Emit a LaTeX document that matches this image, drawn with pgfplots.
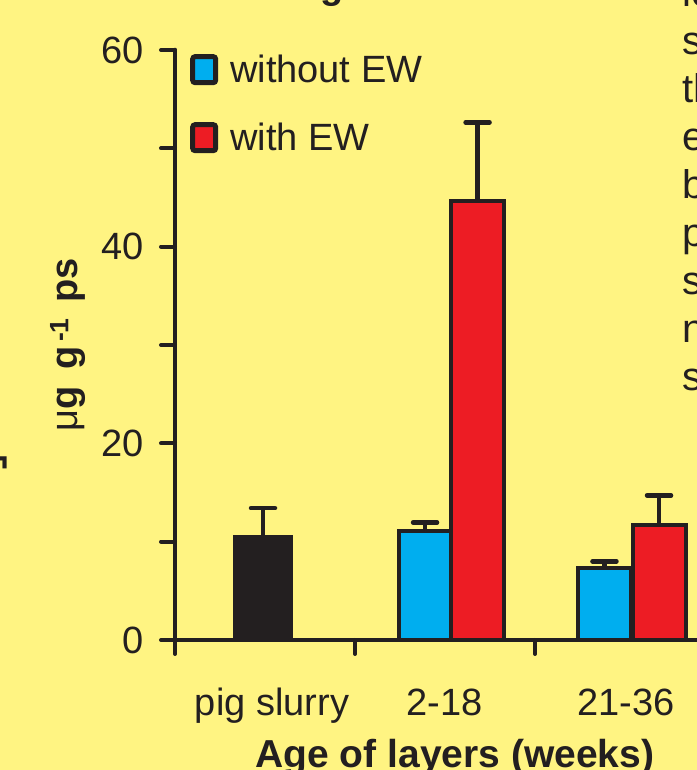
\documentclass[border=0pt]{standalone}
\usepackage{pgfplots}
\pgfplotsset{compat=1.18}
\usepackage{fontspec}
\setmainfont{Liberation Sans}

\definecolor{poster}{RGB}{255,244,130}
\definecolor{ewblue}{RGB}{0,174,239}
\definecolor{ewred}{RGB}{237,28,36}
\definecolor{ink}{RGB}{35,31,32}

\newcommand\chartfont{\fontsize{38bp}{45bp}\selectfont}
\newcommand\bodyfont{\fontsize{40bp}{48bp}\selectfont}

\pgfplotsset{
  errstyle/.style={error bars/.cd, y dir=plus, y explicit,
    error bar style={line width=4.5bp, draw=ink},
    error mark options={rotate=90, line width=4.5bp, mark size=12bp, draw=ink, line cap=round}},
}

\begin{document}
\begin{tikzpicture}
\useasboundingbox (0,0) rectangle (697bp,770bp);
\clip (0,0) rectangle (697bp,770bp);
\fill[poster] (0,0) rectangle (697bp,770bp);

\begin{axis}[
  anchor=origin, at={(175bp,130bp)},
  x=180bp, y=9.8333bp,
  xmin=0, xmax=3.2, ymin=0, ymax=60,
  axis x line=bottom, axis y line=left,
  axis line style={-, line width=4.5bp, draw=ink, line cap=round},
  tick align=outside,
  major tick length=14bp,
  tick style={line width=4bp, draw=ink, line cap=round},
  xtick={0,1,2,3}, xticklabels={,,,},
  extra x ticks={0.539,1.497,2.506},
  extra x tick labels={pig slurry,2-18,21-36},
  extra x tick style={major tick length=0pt, tick style={draw=none}},
  xticklabel style={font=\chartfont, text=ink, anchor=base, yshift=-75bp},
  ytick={0,10,...,60}, yticklabels={0,,20,,40,,60},
  yticklabel style={font=\chartfont, text=ink, anchor=east, xshift=-14bp},
  xlabel={\bfseries Age of layers (weeks)},
  ylabel={μ\textbf{g\hspace{0.45em}g\textsuperscript{\,-1}\hspace{0.4em}ps}},
  every axis x label/.style={at={(axis description cs:0.486,0)}, anchor=base, yshift=-127bp, font=\fontsize{39bp}{45bp}\selectfont, text=ink},
  every axis y label/.style={at={(axis description cs:-0.186,0.5)}, rotate=90, anchor=center, font=\chartfont, text=ink},
  legend style={at={(axis description cs:0.026,0.995)}, anchor=north west, draw=none, fill=none,
    font=\chartfont, text=ink, inner sep=0pt, row sep=35bp,
    /tikz/every odd column/.append style={column sep=10bp}},
  legend cell align=left,
  legend image code/.code={\draw[#1, line width=5bp, rounded corners=2.5bp, draw=ink] (0bp,-13bp) rectangle (23bp,13bp);},
  clip=false,
]
% pig slurry reference bar (not in the legend)
\addplot[ybar, bar width=56bp, bar shift=0pt, fill=ink, draw=ink, line width=4bp, forget plot, errstyle]
  coordinates {(0.489,10.5) +- (0,2.9)};
% layers without earthworms
\addplot[ybar, bar width=53bp, bar shift=0pt, fill=ewblue, draw=ink, line width=4bp, errstyle]
  coordinates {(1.389,11.08) +- (0,0.87) (2.386,7.3) +- (0,0.7)};
\addlegendentry{without EW}
% layers with earthworms
\addplot[ybar, bar width=53bp, bar shift=0pt, fill=ewred, draw=ink, line width=4bp, errstyle]
  coordinates {(1.681,44.65) +- (0,8.0) (2.689,11.7) +- (0,3.0)};
\addlegendentry{with EW}
\end{axis}

% surrounding poster text
\node[font=\chartfont\bfseries, text=ink, anchor=base, inner sep=0pt] at (332bp,771bp) {g};
\node[font=\chartfont\bfseries, text=ink, anchor=east, inner sep=0pt] at (9bp,306bp) {¬};
\foreach \yy/\tt in {763/le,715/s,667/th,619/e,571/b,523/p,475/s,427/n,379/s}
  \node[font=\bodyfont, text=ink, anchor=base west, inner sep=0pt] at (682bp,\yy bp) {\tt};
\end{tikzpicture}
\end{document}
